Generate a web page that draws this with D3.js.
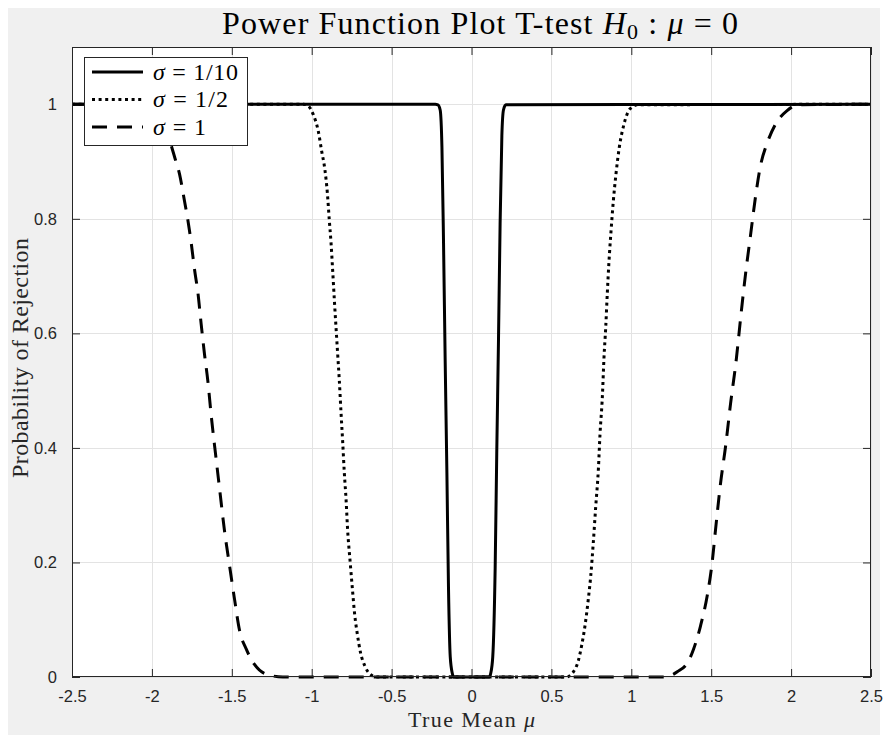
<!DOCTYPE html>
<html>
<head>
<meta charset="utf-8">
<script src="https://cdn.jsdelivr.net/npm/d3@7"></script>
<style>
  html, body { margin: 0; padding: 0; background: #ffffff; }
  svg { display: block; }
  .tick text { font-family: "Liberation Sans", Arial, Helvetica, sans-serif; }
</style>
</head>
<body>
<svg id="chart" width="885" height="738"></svg>
<script>
// Power of the t-test as a function of the true mean, for three noise levels.
const seriesNames = ["σ = 1/10", "σ = 1/2", "σ = 1"];

const muSolid = [-2.5, -0.227, -0.21, -0.196, -0.185, -0.175, -0.165, -0.154, -0.144, -0.133, -0.12, -0.1125,
                 0.1125, 0.12, 0.133, 0.148, 0.158, 0.169, 0.179, 0.19, 0.2, 0.215, 2.5];
const pSolid  = [1, 1, 0.999, 0.99, 0.925, 0.758, 0.557, 0.357, 0.156, 0.035, 0.006, 0,
                 0, 0.006, 0.035, 0.189, 0.39, 0.59, 0.791, 0.945, 0.99, 0.999, 1];

const muDotted = [-2.5, -1.05, -1.021, -0.99, -0.958, -0.9375, -0.917, -0.902, -0.89, -0.879, -0.869, -0.858,
                  -0.848, -0.8375, -0.827, -0.817, -0.806, -0.796, -0.785, -0.775, -0.76, -0.746, -0.731,
                  -0.715, -0.694, -0.667, -0.635, -0.594,
                  0.594, 0.6375, 0.669, 0.69, 0.71, 0.731, 0.746, 0.7625, 0.777, 0.794, 0.804, 0.819, 0.829,
                  0.84, 0.85, 0.86, 0.873, 0.8875, 0.904, 0.925, 0.954, 0.992, 1.04, 2.5];
const pDotted  = [1, 1, 0.997, 0.982, 0.952, 0.918, 0.885, 0.845, 0.798, 0.758, 0.711, 0.657,
                  0.611, 0.564, 0.517, 0.464, 0.41, 0.357, 0.31, 0.256, 0.203, 0.156, 0.109,
                  0.076, 0.042, 0.019, 0.005, 0,
                  0, 0.009, 0.029, 0.056, 0.089, 0.136, 0.176, 0.236, 0.296, 0.363, 0.423, 0.49, 0.557,
                  0.611, 0.671, 0.724, 0.778, 0.831, 0.878, 0.925, 0.965, 0.992, 0.999, 1];

const muDashed = [-2.5, -2.06, -1.975, -1.92, -1.879, -1.858, -1.827, -1.796, -1.775, -1.754, -1.733, -1.712,
                  -1.692, -1.671, -1.65, -1.629, -1.602, -1.577, -1.546, -1.515, -1.483, -1.452, -1.41,
                  -1.358, -1.285, -1.18,
                  1.204, 1.2875, 1.36, 1.39, 1.433, 1.475, 1.506, 1.527, 1.558, 1.59, 1.621, 1.658, 1.683,
                  1.715, 1.746, 1.777, 1.808, 1.85, 1.902, 1.975, 2.048, 2.5];
const pDashed  = [1, 1, 0.989, 0.965, 0.928, 0.908, 0.878, 0.831, 0.798, 0.758, 0.711, 0.671,
                  0.617, 0.564, 0.517, 0.457, 0.39, 0.33, 0.256, 0.196, 0.136, 0.082, 0.049,
                  0.022, 0.005, 0,
                  0, 0.009, 0.029, 0.049, 0.089, 0.142, 0.2, 0.257, 0.337, 0.403, 0.477, 0.557, 0.624,
                  0.704, 0.771, 0.838, 0.892, 0.932, 0.965, 0.989, 0.999, 1];

const xTicks = [-2.5, -2, -1.5, -1, -0.5, 0, 0.5, 1, 1.5, 2, 2.5];
const xTickLabels = ["-2.5", "-2", "-1.5", "-1", "-0.5", "0", "0.5", "1", "1.5", "2", "2.5"];
const yTicks = [0, 0.2, 0.4, 0.6, 0.8, 1];
const yTickLabels = ["0", "0.2", "0.4", "0.6", "0.8", "1"];

const svg = d3.select("#chart");
const axisColor = "#262626";
const serif = "'Liberation Serif', 'Times New Roman', serif";

// figure background
svg.append("rect").attr("x", 8).attr("y", 8).attr("width", 872).attr("height", 727).attr("fill", "#f0f0f0");

const plot = { left: 72, right: 871, top: 47, bottom: 677 };
const x = d3.scaleLinear().domain([-2.5, 2.5]).range([plot.left, plot.right]);
const y = d3.scaleLinear().domain([0, 1.1]).range([plot.bottom, plot.top]);

// axes background
svg.append("rect").attr("x", plot.left).attr("y", plot.top)
  .attr("width", plot.right - plot.left).attr("height", plot.bottom - plot.top).attr("fill", "#ffffff");

// grid
const grid = svg.append("g").attr("stroke", "#e3e3e3").attr("stroke-width", 1);
grid.selectAll("line.gx").data(xTicks).join("line")
  .attr("x1", d => Math.round(x(d)) + 0.5).attr("x2", d => Math.round(x(d)) + 0.5)
  .attr("y1", plot.top).attr("y2", plot.bottom);
grid.selectAll("line.gy").data(yTicks).join("line")
  .attr("y1", d => Math.round(y(d)) + 0.5).attr("y2", d => Math.round(y(d)) + 0.5)
  .attr("x1", plot.left).attr("x2", plot.right);

// axes with inward ticks
const tickLen = 8;
const xAxis = d3.axisBottom(x).tickValues(xTicks).tickFormat((d, i) => xTickLabels[i])
  .tickSizeInner(-tickLen).tickSizeOuter(0).tickPadding(13.5);
const yAxis = d3.axisLeft(y).tickValues(yTicks).tickFormat((d, i) => yTickLabels[i])
  .tickSizeInner(-tickLen).tickSizeOuter(0).tickPadding(15);
const xTop = d3.axisTop(x).tickValues(xTicks).tickFormat("").tickSizeInner(-tickLen).tickSizeOuter(0);
const yRight = d3.axisRight(y).tickValues(yTicks).tickFormat("").tickSizeInner(-tickLen).tickSizeOuter(0);

function styleAxis(g) {
  g.select(".domain").remove();
  g.selectAll(".tick line").attr("stroke", axisColor);
  g.selectAll(".tick text").attr("fill", axisColor).attr("font-size", 16.5);
}
svg.append("g").attr("transform", `translate(0,${plot.bottom})`).call(xAxis).call(styleAxis);
svg.append("g").attr("transform", `translate(${plot.left},0)`).call(yAxis).call(styleAxis);
svg.append("g").attr("transform", `translate(0,${plot.top})`).call(xTop).call(styleAxis);
svg.append("g").attr("transform", `translate(${plot.right},0)`).call(yRight).call(styleAxis);

// curves
const series = [
  { name: seriesNames[0], mu: muSolid, p: pSolid, dash: null, legendWidth: 85 },
  { name: seriesNames[1], mu: muDotted, p: pDotted, dash: "3,3.6", legendWidth: 75 },
  { name: seriesNames[2], mu: muDashed, p: pDashed, dash: "15,10", legendWidth: 53 }
];
const line = d3.line().x(d => x(d[0])).y(d => y(d[1])).curve(d3.curveMonotoneX);
const curves = svg.append("g");
series.forEach(s => {
  curves.append("path")
    .datum(s.mu.map((m, i) => [m, s.p[i]]))
    .attr("d", line)
    .attr("fill", "none")
    .attr("stroke", "#000000")
    .attr("stroke-width", 3)
    .attr("stroke-linejoin", "round")
    .attr("stroke-dasharray", s.dash);
});

// axes box
svg.append("rect").attr("x", plot.left + 0.5).attr("y", plot.top + 0.5)
  .attr("width", plot.right - plot.left - 1).attr("height", plot.bottom - plot.top - 1)
  .attr("fill", "none").attr("stroke", axisColor).attr("stroke-width", 1);

// legend
const legend = svg.append("g");
const lg = { x: 84, y: 57, w: 163, h: 88 };
legend.append("rect").attr("x", lg.x + 0.5).attr("y", lg.y + 0.5).attr("width", lg.w).attr("height", lg.h)
  .attr("fill", "#ffffff").attr("stroke", axisColor).attr("stroke-width", 1);
series.forEach((s, i) => {
  const ly = 72 + i * 27.5;
  legend.append("line").attr("x1", 92).attr("x2", 143).attr("y1", ly).attr("y2", ly)
    .attr("stroke", "#000").attr("stroke-width", 3).attr("stroke-dasharray", s.dash);
  const parts = s.name.split(" = ");
  const t = legend.append("text").attr("x", 153).attr("y", ly + 7.5)
    .attr("font-family", serif).attr("font-size", 24).attr("fill", "#000")
    .attr("textLength", s.legendWidth).attr("lengthAdjust", "spacing");
  t.append("tspan").attr("font-style", "italic").text(parts[0]);
  t.append("tspan").text(" = " + parts[1]);
});

// title
const title = svg.append("text").attr("x", 222).attr("y", 34)
  .attr("font-family", serif).attr("font-size", 32).attr("fill", "#000")
  .attr("textLength", 516).attr("lengthAdjust", "spacing");
title.append("tspan").text("Power Function Plot T-test ");
title.append("tspan").attr("font-style", "italic").text("H");
title.append("tspan").attr("font-size", 22).attr("dy", 5).text("0");
title.append("tspan").attr("dy", -5).text(" : ");
title.append("tspan").attr("font-style", "italic").text("μ");
title.append("tspan").text(" = 0");

// axis labels
const xl = svg.append("text").attr("x", 408).attr("y", 726.5)
  .attr("font-family", serif).attr("font-size", 22).attr("fill", axisColor)
  .attr("textLength", 127).attr("lengthAdjust", "spacing");
xl.append("tspan").text("True Mean ");
xl.append("tspan").attr("font-style", "italic").text("μ");

svg.append("text").attr("transform", "translate(28,478) rotate(-90)")
  .attr("font-family", serif).attr("font-size", 24).attr("fill", axisColor)
  .attr("textLength", 240).attr("lengthAdjust", "spacing")
  .text("Probability of Rejection");
</script>
</body>
</html>
